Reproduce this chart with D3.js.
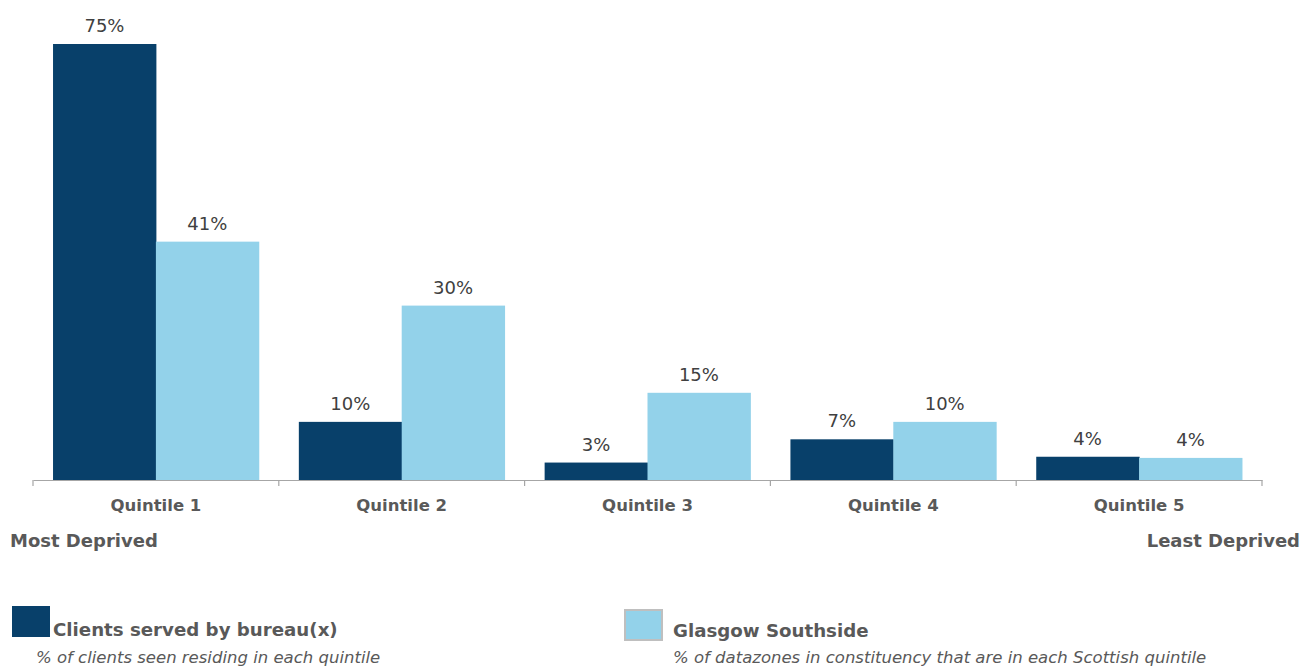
<!DOCTYPE html>
<html><head><meta charset="utf-8">
<script src="https://cdn.jsdelivr.net/npm/d3@7/dist/d3.min.js"></script>
<style>
body{margin:0;background:#fff;}
svg{display:block;font-family:"DejaVu Sans",sans-serif;}
</style></head><body>
<svg id="c" width="1304" height="668"></svg>
<script>
const categories = ["Quintile 1","Quintile 2","Quintile 3","Quintile 4","Quintile 5"];
const seriesNames = ["Clients served by bureau(x)","Glasgow Southside"];
const seriesSubtitles = ["% of clients seen residing in each quintile","% of datazones in constituency that are in each Scottish quintile"];
const clients = [75, 10, 3, 7, 4];
const southside = [41, 30, 15, 10, 3.8];
const colors = ["#08406A","#93D2EA"];

const svg = d3.select("#c");
const x0 = 33, x1 = 1262, yBase = 480;
const x = d3.scaleBand().domain(categories).range([x0, x1]).paddingInner(0.163).paddingOuter(0.0815);
const xs = d3.scaleBand().domain([0,1]).range([0, x.bandwidth()]);
const y = d3.scaleLinear().domain([0, 75]).range([yBase, 44]);

const data = categories.map((c,i)=>({c, v:[clients[i], southside[i]]}));
const g = svg.append("g");
const groups = g.selectAll("g.grp").data(data).join("g").attr("transform", d=>`translate(${x(d.c)},0)`);
groups.selectAll("rect").data(d=>d.v.map((v,k)=>({v,k}))).join("rect")
  .attr("x", d=>xs(d.k)).attr("width", xs.bandwidth()+0.5)
  .attr("y", d=>y(d.v)).attr("height", d=>yBase - y(d.v))
  .attr("fill", d=>colors[d.k]);
groups.selectAll("text.lbl").data(d=>d.v.map((v,k)=>({v,k}))).join("text")
  .attr("class","lbl")
  .attr("x", d=>xs(d.k)+xs.bandwidth()/2).attr("y", d=>y(d.v)-12)
  .attr("text-anchor","middle").attr("font-size",18).attr("fill","#404040")
  .text(d=>Math.round(d.v)+"%");

// axis
const step = (x1-x0)/categories.length;
const axis = d3.axisBottom(x).tickSize(0).tickPadding(19);
const ag = svg.append("g").attr("transform",`translate(0,${yBase})`).call(axis);
ag.select(".domain").attr("stroke","#A6A6A6").attr("stroke-width",1.2);
ag.selectAll(".tick text").attr("font-size",16.5).attr("font-weight","bold").attr("fill","#595959").attr("font-family","DejaVu Sans");
// category boundary ticks
const bounds = d3.range(categories.length+1).map(i=>x0 + i*step);
svg.append("g").selectAll("line").data(bounds).join("line")
  .attr("x1",d=>d).attr("x2",d=>d).attr("y1",yBase).attr("y2",yBase+6)
  .attr("stroke","#A6A6A6").attr("stroke-width",1.2);

svg.append("text").attr("x",10).attr("y",547).attr("font-size",18).attr("font-weight","bold").attr("fill","#595959").text("Most Deprived");
svg.append("text").attr("x",1300).attr("y",547).attr("text-anchor","end").attr("font-size",18).attr("font-weight","bold").attr("fill","#595959").text("Least Deprived");

// legend
const leg = [
  {sx:12, sy:606, sw:38, sh:31, tx:53, ty:636, stx:36, sty:663, border:false},
  {sx:625, sy:610, sw:37, sh:30, tx:673, ty:637, stx:673, sty:663, border:true}
];
leg.forEach((l,i)=>{
  svg.append("rect").attr("x",l.sx).attr("y",l.sy).attr("width",l.sw).attr("height",l.sh)
    .attr("fill",colors[i]).attr("stroke",l.border?"#BFBFBF":"none").attr("stroke-width",l.border?2:0);
  svg.append("text").attr("x",l.tx).attr("y",l.ty).attr("font-size",18.2).attr("font-weight","bold").attr("fill","#595959").text(seriesNames[i]);
  svg.append("text").attr("x",l.stx).attr("y",l.sty).attr("font-size",16.5).attr("font-style","italic").attr("fill","#595959").text(seriesSubtitles[i]);
});
</script></body></html>
